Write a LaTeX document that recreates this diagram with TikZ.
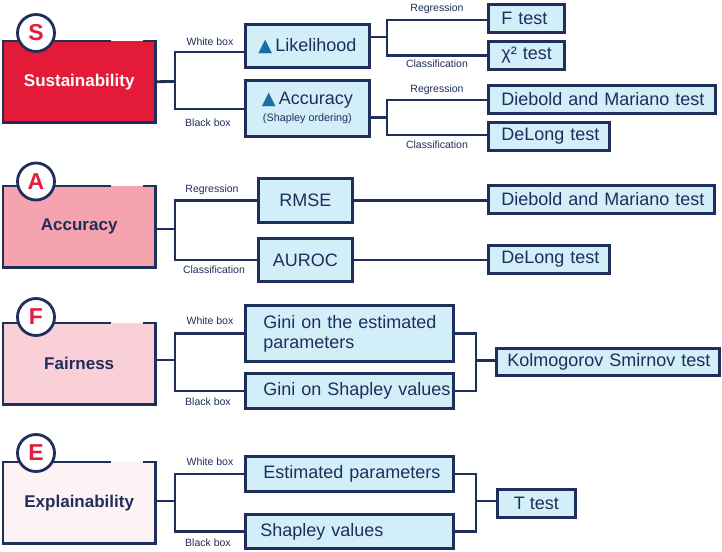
\documentclass[tikz,border=0pt]{standalone}
\usepackage{fontspec}
\setmainfont{Liberation Sans}
\newfontfamily\dejavu{DejaVu Sans}
\definecolor{navy}{HTML}{1F2E5B}
\definecolor{redl}{HTML}{E41B3B}
\definecolor{susf}{HTML}{E31B38}
\definecolor{accf}{HTML}{F4A3AF}
\definecolor{fairf}{HTML}{F9D0D7}
\definecolor{explf}{HTML}{FEF3F4}
\definecolor{boxblue}{HTML}{D2EEF9}
\definecolor{tri}{HTML}{1C6DA3}
\newcommand{\tri}{{\dejavu\textcolor{tri}{▲}}}
\begin{document}
\begin{tikzpicture}[x=1pt,y=-1pt,
  bbox/.style={draw=navy, line width=2.8pt, fill=boxblue, text=navy, inner sep=0pt, anchor=north west, font=\fontsize{18}{20}\selectfont},
  lbox/.style={bbox, align=left},
  cbox/.style={bbox, align=center},
  catbox/.style={rectangle, inner sep=0pt, anchor=north west, minimum width=152pt, minimum height=81pt, font=\fontsize{17}{20}\selectfont\bfseries},
  bord/.style={draw=navy, line width=2.8pt},
  circ/.style={circle, draw=navy, line width=2.8pt, fill=white, minimum size=37pt, inner sep=0pt, text=redl, font=\fontsize{23}{23}\selectfont\bfseries},
  lab/.style={text=navy, inner sep=0pt, font=\fontsize{10.5}{12}\selectfont},
  conn/.style={draw=navy, line width=2.8pt}
]
\useasboundingbox (0,0) rectangle (722,551);

% ---------- Sustainability ----------
\node[catbox, fill=susf, text=white] (sus) at (3,41) {Sustainability};
\draw[bord] ([xshift=108pt]sus.north west) -- (sus.north west) -- (sus.south west) -- (sus.south east) -- (sus.north east) -- ([xshift=-12pt]sus.north east);
\node[circ] (cs) at (36,33) {S};

\node[cbox, minimum width=124pt, minimum height=43pt] (lik) at (244,23) {\tri\,Likelihood};
\node[cbox, minimum width=124pt, minimum height=56pt] (acs) at (244,79) {\tri\,Accuracy\\[-3pt]{\fontsize{10.8}{12}\selectfont (Shapley ordering)}};
\node[lbox, minimum width=76pt, minimum height=28pt, text width=50pt] (ft) at (487,3) {\mbox{F test}};
\node[lbox, minimum width=76pt, minimum height=28pt, text width=50pt] (chi) at (487,40) {\mbox{χ² test}};
\node[lbox, minimum width=227pt, minimum height=28pt, text width=201pt] (dm1) at (487,84) {\mbox{Diebold and Mariano test}};
\node[lbox, minimum width=121pt, minimum height=28pt, text width=95pt] (dl1) at (487,121) {\mbox{DeLong test}};

\node[lab] (wb1) at (210,42) {White box};
\node[lab] (bb1) at (208,123) {Black box};
\node[lab] (rg1) at (437,9) {Regression};
\node[lab] (cl1) at (437,64) {Classification};
\node[lab] (rg2) at (437,90) {Regression};
\node[lab] (cl2) at (437,145) {Classification};

\coordinate (sj) at (175,81.5);
\draw[conn] (sus.east) -- (sj);
\draw[conn] (lik.west |- 0,52) -| (sj) |- (acs.west |- 0,109);
\coordinate (lj) at (387,37);
\draw[conn] (lik.east |- lj) -- (lj);
\draw[conn] (ft.west |- 0,20) -| (lj) |- (chi.west);
\coordinate (aj) at (387,117.5);
\draw[conn] (acs.east |- aj) -- (aj);
\draw[conn] (dm1.west |- 0,100) -| (aj) |- (dl1.west |- 0,135);

% ---------- Accuracy ----------
\node[catbox, fill=accf, text=navy] (acc) at (3,186) {Accuracy};
\draw[bord] ([xshift=108pt]acc.north west) -- (acc.north west) -- (acc.south west) -- (acc.south east) -- (acc.north east) -- ([xshift=-12pt]acc.north east);
\node[circ] (ca) at (36,181.5) {A};

\node[cbox, minimum width=94pt, minimum height=44pt] (rmse) at (257,177) {RMSE};
\node[cbox, minimum width=94pt, minimum height=43pt] (auroc) at (257,237) {AUROC};
\node[lbox, minimum width=226pt, minimum height=28pt, text width=200pt] (dm2) at (487,184) {\mbox{Diebold and Mariano test}};
\node[lbox, minimum width=121pt, minimum height=28pt, text width=95pt] (dl2) at (487,244) {\mbox{DeLong test}};

\node[lab] (rg3) at (212,190) {Regression};
\node[lab] (cl3) at (214,270) {Classification};

\coordinate (aj2) at (175,229);
\draw[conn] (acc.east |- aj2) -- (aj2);
\draw[conn] (rmse.west) -| (aj2) |- (auroc.west);
\draw[conn] (rmse.east) -- (rmse.east -| dm2.west);
\draw[conn] (auroc.east) -- (auroc.east -| dl2.west);

% ---------- Fairness ----------
\node[catbox, fill=fairf, text=navy] (fair) at (3,323) {Fairness};
\draw[bord] ([xshift=108pt]fair.north west) -- (fair.north west) -- (fair.south west) -- (fair.south east) -- (fair.north east) -- ([xshift=-12pt]fair.north east);
\node[circ] (cf) at (36,317) {F};

\node[lbox, minimum width=208pt, minimum height=56pt, text width=172pt] (gest) at (244,304) {\mbox{Gini on the estimated}\\\mbox{parameters}};
\node[lbox, minimum width=208pt, minimum height=35pt, text width=172pt] (gsh) at (244,372) {\mbox{Gini on Shapley values}};
\node[lbox, minimum width=223pt, minimum height=27pt, text width=201pt] (ks) at (495,347) {\mbox{Kolmogorov Smirnov test}};

\node[lab] (wb3) at (210,321) {White box};
\node[lab] (bb3) at (208,402) {Black box};

\coordinate (fj) at (175,360);
\draw[conn] (fair.east |- fj) -- (fj);
\draw[conn] (gest.west) -| (fj) |- (gsh.west);
\coordinate (fj2) at (476,360.5);
\draw[conn] (gest.east) -| (fj2) |- (gsh.east);
\draw[conn] (fj2) -- (fj2 -| ks.west);

% ---------- Explainability ----------
\node[catbox, fill=explf, text=navy] (expl) at (3,462) {Explainability};
\draw[bord] ([xshift=108pt]expl.north west) -- (expl.north west) -- (expl.south west) -- (expl.south east) -- (expl.north east) -- ([xshift=-12pt]expl.north east);
\node[circ] (ce) at (36,453) {E};

\node[lbox, minimum width=208pt, minimum height=35pt, text width=172pt] (eest) at (244,455) {\mbox{Estimated parameters}};
\node[lbox, minimum width=208pt, minimum height=34pt, text width=178pt] (esh) at (244,513) {\mbox{Shapley values}};
\node[cbox, minimum width=78pt, minimum height=28pt] (tt) at (496,488) {T test};

\node[lab] (wb4) at (210,462) {White box};
\node[lab] (bb4) at (208,543) {Black box};

\coordinate (ej) at (175,501);
\draw[conn] (expl.east |- ej) -- (ej);
\draw[conn] (eest.west) -| (ej) |- (esh.west);
\coordinate (ej2) at (476,501);
\draw[conn] (eest.east) -| (ej2) |- (esh.east);
\draw[conn] (ej2) -- (ej2 -| tt.west);
\end{tikzpicture}
\end{document}
